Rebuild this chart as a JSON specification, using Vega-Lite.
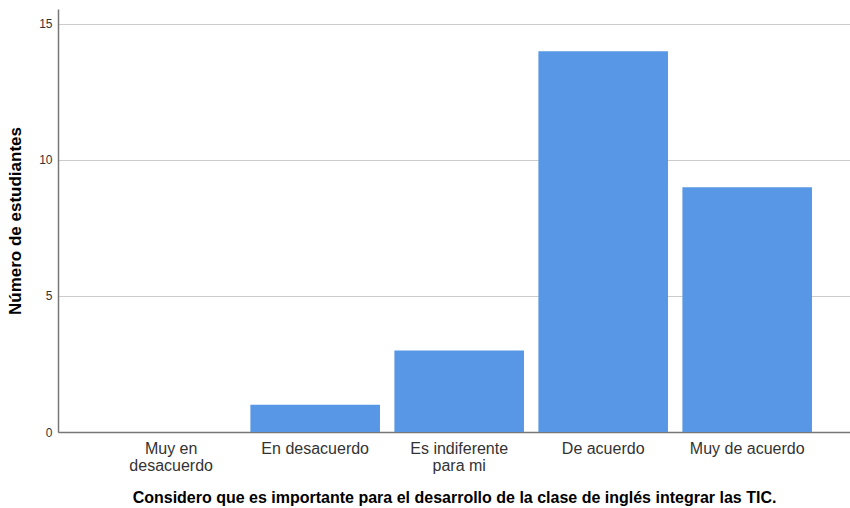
{
  "$schema": "https://vega.github.io/schema/vega-lite/v6.json",
  "width": 792,
  "height": 423,
  "padding": {"left": 58, "top": 9, "right": 0, "bottom": 76},
  "autosize": {"type": "none"},
  "background": "white",
  "config": {
    "view": {"stroke": null},
    "font": "Liberation Sans"
  },
  "data": {
    "values": [
      {"respuesta": "Muy en desacuerdo", "n": 0},
      {"respuesta": "En desacuerdo", "n": 1},
      {"respuesta": "Es indiferente para mi", "n": 3},
      {"respuesta": "De acuerdo", "n": 14},
      {"respuesta": "Muy de acuerdo", "n": 9}
    ]
  },
  "mark": {"type": "bar", "color": "#5797E5", "strokeWidth": 0},
  "encoding": {
    "x": {
      "field": "respuesta",
      "type": "nominal",
      "sort": null,
      "scale": {"paddingInner": 0.1, "paddingOuter": 0.3, "align": 0.56},
      "axis": {
        "title": "Considero que es importante para el desarrollo de la clase de inglés integrar las TIC.",
        "titleFont": "Liberation Sans",
        "titleFontSize": 16,
        "titleFontWeight": "bold",
        "titleColor": "#000000",
        "titlePadding": 16,
        "labelAngle": 0,
        "labelFontSize": 16,
        "labelColor": "#333333",
        "labelPadding": 8,
        "labelLineHeight": 17,
        "labelExpr": "datum.label == 'Muy en desacuerdo' ? ['Muy en', 'desacuerdo'] : datum.label == 'Es indiferente para mi' ? ['Es indiferente', 'para mi'] : datum.label",
        "ticks": false,
        "domainColor": "#777777",
        "domainWidth": 1.5,
        "grid": false
      }
    },
    "y": {
      "field": "n",
      "type": "quantitative",
      "scale": {"domain": [0, 15.55], "nice": false},
      "axis": {
        "title": "Número de estudiantes",
        "titleFont": "Liberation Sans",
        "titleFontSize": 17,
        "titleFontWeight": "bold",
        "titleColor": "#000000",
        "titlePadding": 14,
        "values": [0, 5, 10, 15],
        "labelFontSize": 12,
        "labelColor": "#333333",
        "labelPadding": 6,
        "ticks": false,
        "domainColor": "#777777",
        "domainWidth": 1.5,
        "grid": true,
        "gridColor": "#CCCCCC",
        "gridWidth": 1.2
      }
    }
  }
}
